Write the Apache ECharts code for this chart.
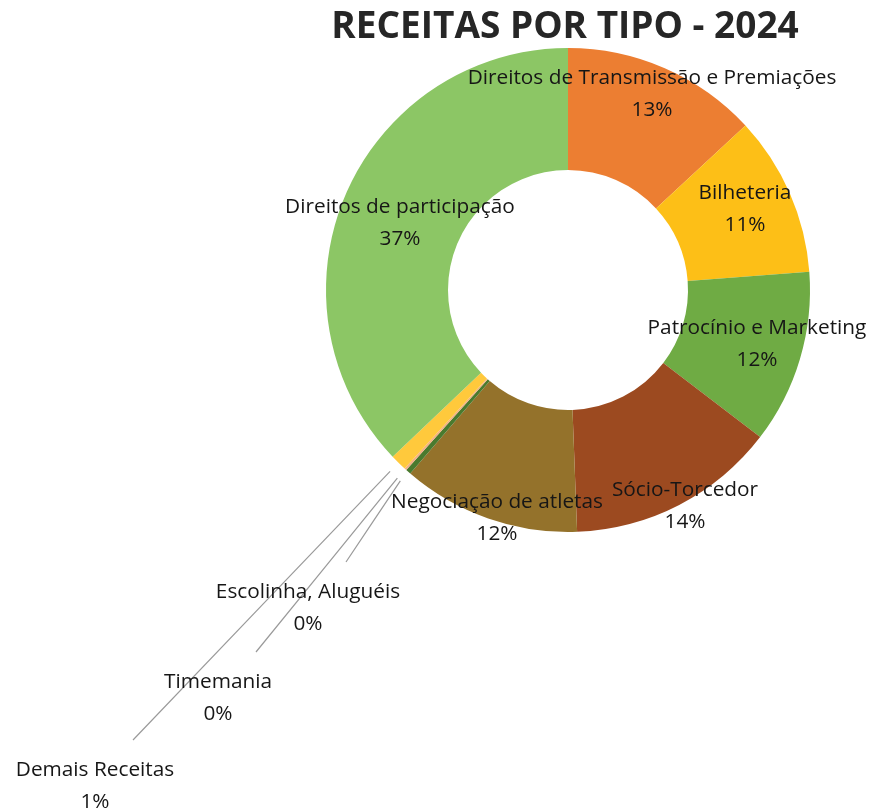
<!DOCTYPE html>
<html>
<head>
<meta charset="utf-8">
<title>Receitas por tipo - 2024</title>
<script src="https://cdn.jsdelivr.net/npm/echarts@6/dist/echarts.min.js"></script>
<style>
  html, body { margin: 0; padding: 0; background: #fff; }
  #chart { width: 871px; height: 810px; }
</style>
</head>
<body>
<div id="chart"></div>
<script>
// categories and values (percent of total revenue)
const categories = [
  'Direitos de Transmissão e Premiações',
  'Bilheteria',
  'Patrocínio e Marketing',
  'Sócio-Torcedor',
  'Negociação de atletas',
  'Escolinha, Aluguéis',
  'Timemania',
  'Demais Receitas',
  'Direitos de participação'
];
const values = [13.1, 10.7, 11.6, 14.0, 11.9, 0.35, 0.15, 1.1, 37.1];
const colors = [
  '#EC7E32', '#FDBF17', '#6FAB44', '#9C4A20', '#94722B',
  '#4A7A2E', '#F4B183', '#FFC93C', '#8CC665'
];
// slices whose labels sit outside with a leader line
const outsideLabels = [5, 6, 7];

( function ()
{
  const center = [ 568, 290 ];
  const radius = [ 120, 242 ];
  // label centre offsets from the pie centre
  const labelOffsets = [
    [ 84, -196 ], [ 177, -81 ], [ 189, 54 ], [ 117, 216 ], [ -71, 228 ],
    [ -260, 318 ], [ -350, 408 ], [ -473, 496 ], [ -168, -67 ]
  ];
  const total = values.reduce( ( a, b ) => a + b, 0 );

  // mid angle of slice i, clockwise from top, in radians
  function midAngle ( i )
  {
    let before = 0;
    for ( let k = 0; k < i; k++ ) before += values[ k ];
    return ( before + values[ i ] / 2 ) / total * Math.PI * 2;
  }

  let myChart = echarts.init( document.getElementById( 'chart' ) );
  let option = {
    backgroundColor: '#fff',
    animation: false,
    title: {
      text: 'RECEITAS POR TIPO - 2024',
      left: 560,
      top: 4,
      textAlign: 'center',
      textStyle: {
        fontFamily: 'Open Sans',
        fontWeight: 'bold',
        fontSize: 37,
        color: '#262626'
      }
    },
    series: [
      {
        type: 'pie',
        center: center,
        radius: radius,
        startAngle: 90,
        clockwise: true,
        avoidLabelOverlap: false,
        emphasis: { disabled: true },
        itemStyle: { borderWidth: 0 },
        label: {
          show: true,
          position: 'inside',
          fontFamily: 'Open Sans',
          fontSize: 20.8,
          lineHeight: 32,
          color: '#161616',
          align: 'center',
          formatter: function ( p )
          {
            return p.name + '\n' + Math.round( p.percent ) + '%';
          }
        },
        labelLine: { show: false },
        labelLayout: function ( p )
        {
          const i = p.dataIndex;
          const x = center[ 0 ] + labelOffsets[ i ][ 0 ];
          const y = center[ 1 ] + labelOffsets[ i ][ 1 ];
          let res = { x: x, y: y, align: 'center', verticalAlign: 'middle' };
          if ( outsideLabels.indexOf( i ) >= 0 )
          {
            const a = midAngle( i );
            const r = radius[ 1 ] + 12;
            const sx = center[ 0 ] + r * Math.sin( a );
            const sy = center[ 1 ] - r * Math.cos( a );
            const ex = x + 38;
            const ey = y - 46;
            res.labelLinePoints = [ [ sx, sy ], [ ( sx + ex ) / 2, ( sy + ey ) / 2 ], [ ex, ey ] ];
          }
          return res;
        },
        data: categories.map( function ( name, i )
        {
          let item = {
            name: name,
            value: values[ i ],
            itemStyle: { color: colors[ i ] }
          };
          if ( outsideLabels.indexOf( i ) >= 0 )
          {
            item.label = { position: 'outside' };
            item.labelLine = {
              show: true,
              smooth: false,
              lineStyle: { color: '#9a9a9a', width: 1.2 }
            };
          }
          return item;
        } )
      }
    ]
  };
  myChart.setOption( option );
  window.addEventListener( 'resize', function ()
  {
    myChart.resize();
  } );
} )();
</script>
</body>
</html>
